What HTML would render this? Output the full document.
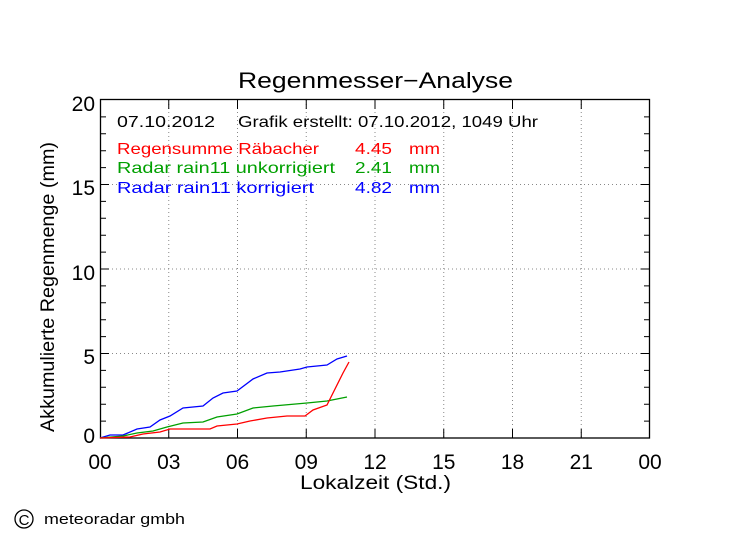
<!DOCTYPE html><html><head><style>body{margin:0;background:#fff}svg{display:block}text{font-family:"Liberation Sans",sans-serif}</style></head><body>
<svg width="749" height="539" xmlns="http://www.w3.org/2000/svg">
<rect width="749" height="539" fill="#fff"/>
<g stroke="#888" stroke-dasharray="1,3" stroke-width="1">
<line x1="100" y1="353.5" x2="650" y2="353.5"/><line x1="100" y1="269" x2="650" y2="269"/><line x1="100" y1="184.5" x2="650" y2="184.5"/>
<line x1="168.75" y1="100" x2="168.75" y2="438"/><line x1="237.5" y1="100" x2="237.5" y2="438"/><line x1="306.25" y1="100" x2="306.25" y2="438"/><line x1="375" y1="100" x2="375" y2="438"/><line x1="443.75" y1="100" x2="443.75" y2="438"/><line x1="512.5" y1="100" x2="512.5" y2="438"/><line x1="581.25" y1="100" x2="581.25" y2="438"/>
</g>
<rect x="100.5" y="99.5" width="549" height="338.5" fill="none" stroke="#000" stroke-width="1.3"/>
<g stroke="#000" stroke-width="1">
<path d="M100 421.1h6M100 404.2h6M100 387.3h6M100 370.4h6M100 353.5h9M100 336.6h6M100 319.7h6M100 302.8h6M100 285.9h6M100 269h9M100 252.1h6M100 235.2h6M100 218.3h6M100 201.4h6M100 184.5h9M100 167.6h6M100 150.7h6M100 133.8h6M100 116.9h6"/>
<path d="M650 421.1h-6M650 404.2h-6M650 387.3h-6M650 370.4h-6M650 353.5h-9M650 336.6h-6M650 319.7h-6M650 302.8h-6M650 285.9h-6M650 269h-9M650 252.1h-6M650 235.2h-6M650 218.3h-6M650 201.4h-6M650 184.5h-9M650 167.6h-6M650 150.7h-6M650 133.8h-6M650 116.9h-6"/>
<path d="M168.75 438v-9M237.5 438v-9M306.25 438v-9M375 438v-9M443.75 438v-9M512.5 438v-9M581.25 438v-9M168.75 100v9M237.5 100v9M306.25 100v9M375 100v9M443.75 100v9M512.5 100v9M581.25 100v9"/>
</g>
<polyline fill="none" stroke="#00f" stroke-width="1.3" points="100,438 110,435 123,435 137,429 150,427 160,420 170,416 183,408 203,406 213,398 223,393 237,391 253,379 267,373 280,372 300,369 307,367 327,365 337,359 347,356"/>
<polyline fill="none" stroke="#00a000" stroke-width="1.3" points="100,438 123,436 137,433 153,431 167,427 183,423 203,422 217,417 237,414 253,408 273,406 307,403 327,401 347,397"/>
<polyline fill="none" stroke="#f00" stroke-width="1.3" points="100,438 130,437 143,434 160,432 170,429 210,429 217,426 237,424 250,421 267,418 287,416 305,416 313,410 327,405 333,393 343,373 349,362"/>
<text x="238" y="88" font-size="22" textLength="275" lengthAdjust="spacingAndGlyphs">Regenmesser−Analyse</text>
<g font-size="21" text-anchor="end"><text x="95" y="111">20</text><text x="95" y="195">15</text><text x="95" y="280">10</text><text x="95" y="364">5</text><text x="95" y="443">0</text></g>
<g font-size="21" text-anchor="middle"><text x="100" y="469">00</text><text x="168.75" y="469">03</text><text x="237.5" y="469">06</text><text x="306.25" y="469">09</text><text x="375" y="469">12</text><text x="443.75" y="469">15</text><text x="512.5" y="469">18</text><text x="581.25" y="469">21</text><text x="650" y="469">00</text></g>
<text x="300" y="489" font-size="19" textLength="151" lengthAdjust="spacingAndGlyphs">Lokalzeit (Std.)</text>
<text transform="translate(54,432) rotate(-90)" font-size="19" textLength="290" lengthAdjust="spacingAndGlyphs">Akkumulierte Regenmenge (mm)</text>
<g font-size="16">
<text x="117" y="127" textLength="98" lengthAdjust="spacingAndGlyphs">07.10.2012</text><text x="238" y="127" textLength="300" lengthAdjust="spacingAndGlyphs">Grafik erstellt: 07.10.2012, 1049 Uhr</text>
<text x="117" y="154" fill="#f00" textLength="202" lengthAdjust="spacingAndGlyphs">Regensumme Räbacher</text><text x="355" y="154" fill="#f00" textLength="37" lengthAdjust="spacingAndGlyphs">4.45</text><text x="409" y="154" fill="#f00" textLength="31" lengthAdjust="spacingAndGlyphs">mm</text>
<text x="117" y="173" fill="#00a000" textLength="218" lengthAdjust="spacingAndGlyphs">Radar rain11 unkorrigiert</text><text x="355" y="173" fill="#00a000" textLength="37" lengthAdjust="spacingAndGlyphs">2.41</text><text x="409" y="173" fill="#00a000" textLength="31" lengthAdjust="spacingAndGlyphs">mm</text>
<text x="117" y="193" fill="#00f" textLength="197" lengthAdjust="spacingAndGlyphs">Radar rain11 korrigiert</text><text x="355" y="193" fill="#00f" textLength="37" lengthAdjust="spacingAndGlyphs">4.82</text><text x="409" y="193" fill="#00f" textLength="31" lengthAdjust="spacingAndGlyphs">mm</text>
</g>
<circle cx="24" cy="519" r="9" fill="none" stroke="#000" stroke-width="1.3"/>
<text x="24" y="525" font-size="15" text-anchor="middle">C</text>
<text x="44" y="524" font-size="15" textLength="141" lengthAdjust="spacingAndGlyphs">meteoradar gmbh</text>
</svg></body></html>
